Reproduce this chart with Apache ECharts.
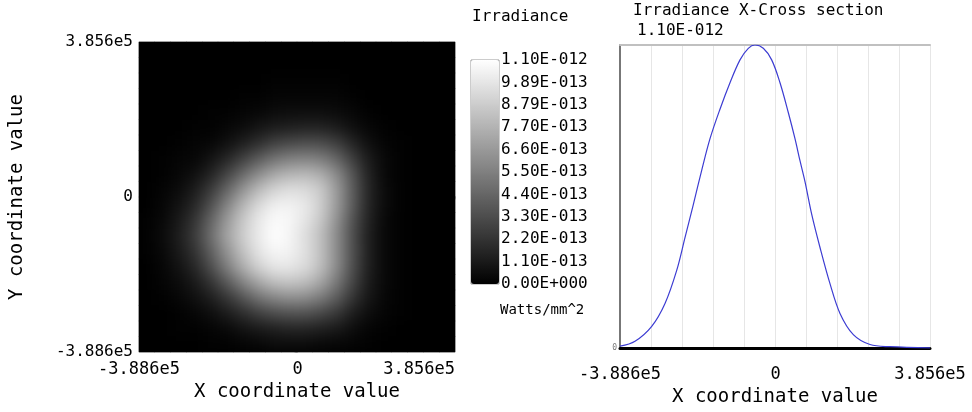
<!DOCTYPE html>
<html><head><meta charset="utf-8">
<script src="https://cdn.jsdelivr.net/npm/echarts@6/dist/echarts.min.js"></script>
<style>
html,body{margin:0;padding:0;background:#fff}
#wrap{position:relative;width:972px;height:412px}
#c{position:absolute;left:0;top:0;width:972px;height:412px}
#hwrap{position:absolute;left:140px;top:43px;width:315px;height:309px;overflow:hidden;background:#000;pointer-events:none}
#h{width:315px;height:309px;filter:blur(7px)}
</style>
</head><body><div id="wrap"><div id="c"></div><div id="hwrap"><div id="h"></div></div></div>
<script>
const FONT = 'DejaVu Sans Mono';

// Spatial extent of detector (same for X and Y)
const coordMin = -388600;
const coordMax = 385600;
const coordTickValues = [-388600, 0, 385600];
const coordTickLabels = ['-3.886e5', '0', '3.856e5'];

// Colour bar tick labels (bottom -> top)
const colorbarLabels = ['0.00E+000', '1.10E-013', '2.20E-013', '3.30E-013', '4.40E-013',
  '5.50E-013', '6.60E-013', '7.70E-013', '8.79E-013', '9.89E-013', '1.10E-012'];
const colorbarTitle = 'Irradiance';
const colorbarUnit = 'Watts/mm^2';

// Irradiance map, units of 1e-14 W/mm^2, rows from top (y=max) to bottom (y=min), columns left -> right
const irrMin = 0;
const irrMax = 110;
const heatRows = [
  [0,0,0,0,0,0,0,0,0,0,0,0,0,0,0,0,0,0,0,0],
  [0,0,0,0,0,0,0,0,0,0,0,0,0,0,0,0,0,0,0,0],
  [0,0,0,0,0,0,0,0,1,1,1,1,1,0,0,0,0,0,0,0],
  [0,0,0,0,0,0,1,1,2,2,2,2,2,1,0,0,0,0,0,0],
  [0,0,0,0,1,1,2,3,5,6,6,6,5,3,1,0,0,0,0,0],
  [0,0,0,1,1,3,5,9,12,14,15,15,12,7,3,1,0,0,0,0],
  [0,0,1,2,3,7,13,20,28,32,34,33,27,16,7,2,1,0,0,0],
  [0,1,2,3,8,16,27,39,49,55,57,54,44,27,12,4,1,0,0,0],
  [0,1,3,7,15,29,45,60,72,78,80,75,60,37,15,4,1,0,0,0],
  [0,2,5,12,25,43,63,80,91,96,95,87,67,40,17,5,1,0,0,0],
  [0,3,8,17,34,56,77,93,103,105,101,89,67,40,16,5,1,0,0,0],
  [1,4,11,23,43,66,86,100,108,107,99,86,63,36,15,4,1,0,0,0],
  [1,5,13,26,47,70,88,101,110,106,96,82,60,34,14,4,1,0,0,0],
  [1,4,11,22,41,63,83,98,106,105,97,83,61,35,14,4,1,0,0,0],
  [0,3,8,17,33,54,74,90,99,100,95,82,60,34,14,4,1,0,0,0],
  [0,2,5,11,22,38,56,71,82,85,82,71,52,30,12,4,1,0,0,0],
  [0,1,3,7,13,23,36,49,58,62,61,53,40,23,10,3,1,0,0,0],
  [0,0,1,3,6,12,19,27,33,36,36,31,24,13,6,2,1,0,0,0],
  [0,0,1,1,2,4,8,11,14,16,16,14,11,6,2,1,0,0,0,0],
  [0,0,0,0,1,1,2,3,5,5,5,4,3,2,1,0,0,0,0,0]
];

// X cross-section (W/mm^2 vs X)
const crossTitle = 'Irradiance X-Cross section';
const crossPeakLabel = '1.10E-012';
const crossPeak = 1.10e-12;
const crossX = [-3.886e5, -3.511e5, -3.094e5, -2.762e5, -2.470e5, -2.263e5, -2.055e5, -1.846e5,
  -1.638e5, -1.389e5, -1.139e5, -0.889e5, -0.682e5, -0.515e5, -0.307e5, -0.098e5, 0.110e5,
  0.317e5, 0.484e5, 0.609e5, 0.734e5, 0.902e5, 1.109e5, 1.358e5, 1.608e5, 1.941e5, 2.358e5,
  2.857e5, 3.856e5];
const crossY = [0.007e-12, 0.025e-12, 0.079e-12, 0.162e-12, 0.282e-12, 0.401e-12, 0.521e-12, 0.645e-12,
  0.760e-12, 0.867e-12, 0.963e-12, 1.046e-12, 1.088e-12, 1.100e-12, 1.088e-12, 1.046e-12, 0.963e-12,
  0.855e-12, 0.760e-12, 0.680e-12, 0.604e-12, 0.485e-12, 0.365e-12, 0.234e-12, 0.126e-12, 0.049e-12, 0.013e-12,
  0.005e-12, 0.001e-12];

const xName = 'X coordinate value';
const yName = 'Y coordinate value';

// ---- build ----
const nRows = heatRows.length;
const colCats = heatRows[0].map((_, i) => String(i));
const rowCats = heatRows.map((_, j) => String(j));
const heatData = [];
heatRows.forEach((row, j) => row.forEach((v, i) => heatData.push([i, nRows - 1 - j, v])));
const lineData = crossX.map((x, i) => [x, crossY[i]]);
const coordFmt = v => {
  const k = coordTickValues.findIndex(t => Math.abs(t - v) < 1);
  return k >= 0 ? coordTickLabels[k] : '';
};
const txt = { fontFamily: FONT, color: '#000' };
const heatVisual = {
  type: 'continuous', seriesIndex: 0, min: irrMin, max: irrMax, calculable: false,
  inRange: { color: ['#000000', '#ffffff'] },
  itemWidth: 28, itemHeight: 224, left: 471, top: 60, padding: 0, text: ['', ''], textGap: 0,
  orient: 'vertical', hoverLink: false
};

const chart = echarts.init(document.getElementById('c'), null, { renderer: 'canvas' });
chart.setOption({
  animation: false,
  backgroundColor: '#fff',
  title: [
    { text: colorbarTitle, left: 472, top: 9, padding: 0, textStyle: { ...txt, fontSize: 16, fontWeight: 'normal' } },
    { text: crossTitle, left: 633, top: 3, padding: 0, textStyle: { ...txt, fontSize: 16, fontWeight: 'normal' } },
    { text: colorbarUnit, left: 500, top: 303, padding: 0, textStyle: { ...txt, fontSize: 14, fontWeight: 'normal' } }
  ],
  grid: [
    { left: 139, top: 42, width: 316, height: 310, show: true, borderColor: '#b0b0b0', borderWidth: 1, backgroundColor: '#000' },
    { left: 620, top: 45, width: 310, height: 307 },
    { left: 471, top: 60, width: 28, height: 224, show: true, borderColor: '#999', borderWidth: 1, backgroundColor: 'transparent' }
  ],
  xAxis: [
    { type: 'category', gridIndex: 0, data: colCats, position: 'bottom',
      axisLine: { show: false }, axisLabel: { show: false },
      axisTick: { show: true, interval: 1, length: 3, lineStyle: { color: '#b0b0b0' } }, splitLine: { show: false } },
    { type: 'value', gridIndex: 0, position: 'bottom', min: coordMin, max: coordMax, interval: 388600,
      axisLine: { show: false }, axisTick: { show: false }, splitLine: { show: false },
      axisLabel: { ...txt, fontSize: 17, margin: 9, formatter: coordFmt, alignMaxLabel: 'right', showMinLabel: true, showMaxLabel: true },
      name: xName, nameLocation: 'middle', nameGap: 31, nameTextStyle: { ...txt, fontSize: 19 } },
    { type: 'value', gridIndex: 1, position: 'bottom', min: coordMin, max: coordMax, interval: 388600,
      axisLine: { show: true, onZero: false, lineStyle: { color: '#000', width: 3 } }, axisTick: { show: false }, splitLine: { show: false },
      axisLabel: { ...txt, fontSize: 17, margin: 18, formatter: coordFmt, showMinLabel: true, showMaxLabel: true },
      name: xName, nameLocation: 'middle', nameGap: 39, nameTextStyle: { ...txt, fontSize: 19 } },
    { type: 'value', gridIndex: 1, position: 'top', min: 0, max: 10, interval: 1,
      axisLine: { show: true, onZero: false, lineStyle: { color: '#c0c0c0', width: 2 } }, axisTick: { show: false }, axisLabel: { show: false },
      splitLine: { show: true, lineStyle: { color: '#e6e6e6', width: 1 } } },
    { type: 'value', gridIndex: 2, show: false }
  ],
  yAxis: [
    { type: 'category', gridIndex: 0, data: rowCats, position: 'left',
      axisLine: { show: false }, axisLabel: { show: false },
      axisTick: { show: true, interval: 1, length: 3, lineStyle: { color: '#b0b0b0' } }, splitLine: { show: false } },
    { type: 'value', gridIndex: 0, position: 'left', min: coordMin, max: coordMax, interval: 388600,
      axisLine: { show: false }, axisTick: { show: false }, splitLine: { show: false },
      axisLabel: { ...txt, fontSize: 16, margin: 6, formatter: coordFmt, showMinLabel: true, showMaxLabel: true },
      name: yName, nameLocation: 'middle', nameGap: 112, nameTextStyle: { ...txt, fontSize: 19 } },
    { type: 'value', gridIndex: 1, position: 'left', min: 0, max: crossPeak, interval: crossPeak,
      axisLine: { show: true, onZero: false, lineStyle: { color: '#777', width: 2 } }, axisTick: { show: false }, splitLine: { show: false },
      axisLabel: { fontFamily: FONT, fontSize: 8, color: '#777', margin: 3, formatter: v => (v === 0 ? '0' : ''), showMaxLabel: false },
      name: crossPeakLabel, nameLocation: 'end', nameGap: 6,
      nameTextStyle: { ...txt, fontSize: 16, align: 'left', padding: [0, 0, 0, 17] } },
    { type: 'category', gridIndex: 2, position: 'right', data: colorbarLabels, boundaryGap: false,
      axisLine: { show: false }, axisTick: { show: false }, splitLine: { show: false },
      axisLabel: { ...txt, fontSize: 16, margin: 2, interval: 0 } }
  ],
  visualMap: heatVisual,
  series: [
    { type: 'heatmap', xAxisIndex: 0, yAxisIndex: 0, data: heatData, progressive: 0 },
    { type: 'line', xAxisIndex: 2, yAxisIndex: 2, data: lineData, smooth: 0.35, showSymbol: false,
      lineStyle: { color: '#3c3cd2', width: 1.2 } }
  ]
});

// Smoothed (display-blurred) rendering of the same irradiance map, laid over the plot area
const heat = echarts.init(document.getElementById('h'), null, { renderer: 'canvas' });
heat.setOption({
  animation: false,
  grid: { left: -1, top: -1, width: 316, height: 310 },
  xAxis: { type: 'category', data: colCats, show: false },
  yAxis: { type: 'category', data: rowCats, show: false },
  visualMap: { ...heatVisual, show: false },
  series: [{ type: 'heatmap', data: heatData, progressive: 0 }]
});
</script></body></html>
